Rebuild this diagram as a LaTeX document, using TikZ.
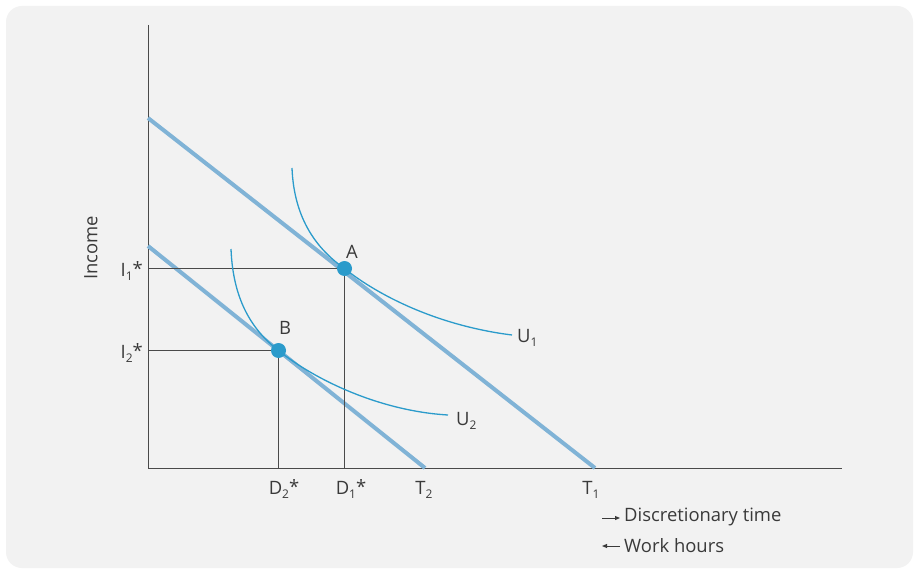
\documentclass[tikz,border=0pt]{standalone}
\usepackage{fontspec}
\usetikzlibrary{arrows.meta}
\setmainfont{Open Sans}
\definecolor{bg}{HTML}{F2F2F2}
\definecolor{budget}{HTML}{80B3D6}
\definecolor{curve}{HTML}{2B9BCB}
\definecolor{axis}{HTML}{4A4A4A}
\definecolor{txt}{HTML}{3A3A3A}
\newcommand{\labsub}[2]{#1\raisebox{-0.45ex}{\fontsize{12}{12}\selectfont #2}}
\newcommand{\labstar}[2]{#1\raisebox{-0.45ex}{\fontsize{12}{12}\selectfont #2}\raisebox{0.1ex}{*}}
\begin{document}
\begin{tikzpicture}[x=1bp,y=-1bp,
  axisline/.style={draw=axis,line width=1.6bp},
  guide/.style={draw=axis,line width=1.6bp},
  budgetline/.style={draw=budget,line width=4bp},
  indiff/.style={draw=curve,line width=1.3bp},
  dot/.style={circle,fill=curve,inner sep=0pt,minimum size=15bp},
  keyarrow/.style={draw=txt,line width=1bp,-{Triangle[length=5bp,width=4bp]}},
  lab/.style={text=txt,font=\fontsize{18.5}{22}\selectfont,inner sep=1pt}]
\useasboundingbox (0,0) rectangle (915,571);
\fill[white] (0,0) rectangle (915,571);
\fill[bg,rounded corners=16bp] (6,6) rectangle (913,568);
% axes
\coordinate (O) at (148.5,468.5);
\coordinate (ytop) at (148.5,25);
\coordinate (xend) at (842,468.5);
\draw[axisline] (ytop) -- (O) -- (xend);
% budget lines
\coordinate (L1a) at (148,118);
\coordinate (T1) at (595,468);
\coordinate (L2a) at (148,246);
\coordinate (T2) at (425,468);
\draw[budgetline] (L1a) -- (T1);
\draw[budgetline] (L2a) -- (T2);
% guides
\coordinate (I1) at (148.5,268.5);
\coordinate (I2) at (148.5,350.5);
\coordinate (D1) at (344.5,468.5);
\coordinate (D2) at (278.5,468.5);
\coordinate (Ac) at (344.5,268.5);
\coordinate (Bc) at (278.5,350.5);
\draw[guide] (I1) -- (Ac) -- (D1);
\draw[guide] (I2) -- (Bc) -- (D2);
% indifference curves
\coordinate (U1s) at (292,168);
\coordinate (U1e) at (512,335);
\coordinate (U2s) at (231,249);
\coordinate (U2e) at (448,415);
\draw[indiff] (U1s) .. controls (294,220) and (318,250) .. (Ac) .. controls (380,297) and (440,326) .. (U1e);
\draw[indiff] (U2s) .. controls (233,300) and (252,330) .. (Bc) .. controls (315,380) and (380,411) .. (U2e);
% points
\node[dot] (A) at (Ac) {};
\node[dot] (B) at (Bc) {};
\node[lab] (Alab) at (352,252) {A};
\node[lab] (Blab) at (285,328) {B};
\node[lab,anchor=west] (U1lab) at (516,338) {\labsub{U}{1}};
\node[lab,anchor=west] (U2lab) at (455,421) {\labsub{U}{2}};
\node[lab,anchor=east] (I1lab) at (144,271) {\labstar{I}{1}};
\node[lab,anchor=east] (I2lab) at (144,353) {\labstar{I}{2}};
\node[lab] (D2lab) at (284,489) {\labstar{D}{2}};
\node[lab] (D1lab) at (351,489) {\labstar{D}{1}};
\node[lab] (T2lab) at (424,490) {\labsub{T}{2}};
\node[lab] (T1lab) at (591,490) {\labsub{T}{1}};
\node[lab,rotate=90] (inc) at (91,248) {Income};
% key
\node[lab,anchor=west] (disc) at (623,517) {Discretionary time};
\node[lab,anchor=west] (work) at (623,546) {Work hours};
\coordinate (d0) at (602,518);
\coordinate (d1) at (620,518);
\coordinate (w0) at (620,546);
\coordinate (w1) at (602,546);
\draw[keyarrow] (d0) -- (d1);
\draw[keyarrow] (w0) -- (w1);
\end{tikzpicture}
\end{document}
